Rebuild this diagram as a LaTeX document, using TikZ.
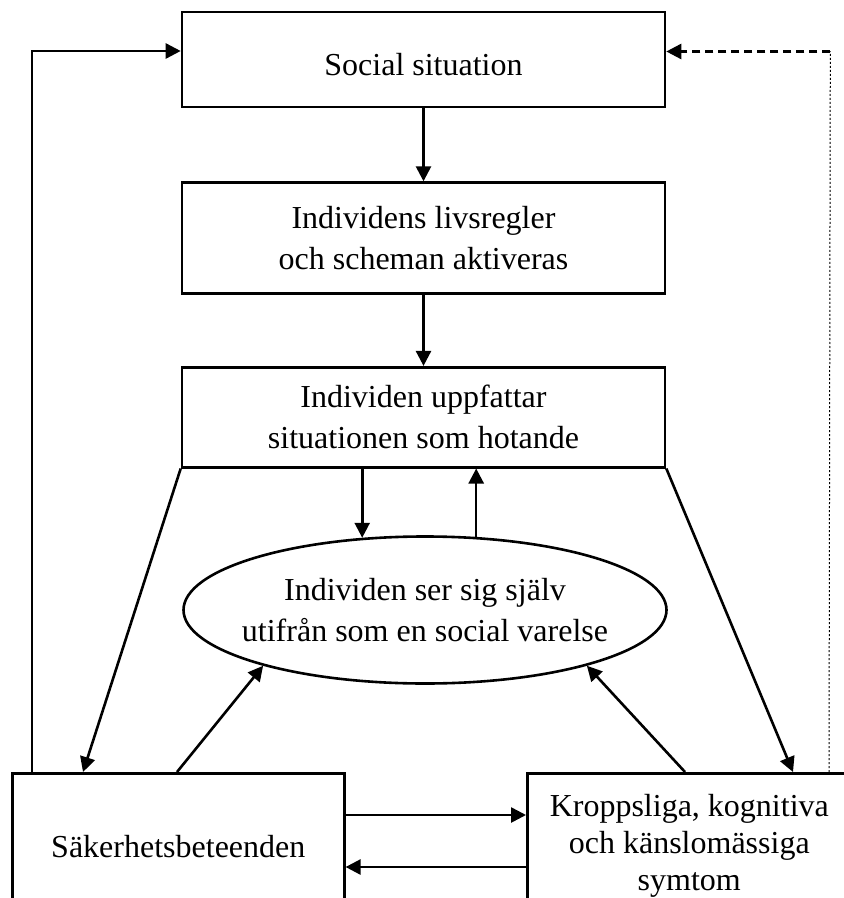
\documentclass[tikz,border=0pt]{standalone}
\usepackage{fontspec}
\setmainfont{Liberation Serif}
\usetikzlibrary{positioning,arrows.meta,shapes.geometric,calc}

\begin{document}
\begin{tikzpicture}[
  x=0.5pt, y=-0.5pt,
  font=\fontsize{16}{20.5}\selectfont,
  box/.style={draw, line width=1.3pt, align=center, inner sep=0pt, minimum width=241.5pt},
  oval/.style={ellipse, draw, line width=1.3pt, align=center, inner ysep=0pt, inner xsep=-7pt, minimum width=241.5pt, minimum height=73.5pt},
  arr/.style={-{Triangle[length=7.5pt,width=7.5pt]}, line width=1.3pt},
  dasharr/.style={arr, dash pattern=on 4pt off 2.5pt},
  dotline/.style={line width=0.5pt, dash pattern=on 1pt off 1pt},
]
\useasboundingbox (0,0) rectangle (844,898);

% ---------------- centre column ----------------
\node[box, minimum height=47.5pt, text height=16pt, text depth=0pt] (social) at (423.5,59.5) {Social situation};
\node[box, minimum height=55.5pt, below=36.5pt of social] (rules) {Individens livsregler\\och scheman aktiveras};
\node[box, minimum height=50pt, below=35.5pt of rules] (threat) {Individen uppfattar\\situationen som hotande};
\node[oval] (self) at (425,610) {Individen ser sig själv\\utifrån som en social varelse};

% ---------------- bottom row ----------------
\node[box, minimum width=166pt, minimum height=73pt, anchor=north west] (safety) at (11,772) {Säkerhetsbeteenden};
\node[box, minimum width=162pt, minimum height=73pt, anchor=north west, font=\fontsize{16}{18.5}\selectfont] (symptoms) at (526,772) {Kroppsliga, kognitiva\\och känslomässiga\\symtom};

% ---------------- arrows ----------------
\draw[arr] (social) -- (rules);
\draw[arr] (rules) -- (threat);
\draw[arr] (self.131.6 |- threat.south) -- (self.131.6);
\draw[arr] (self.55.2) -- (self.55.2 |- threat.south);
\draw[arr] (threat.south west) -- ($(safety.north west)+(72,0)$);
\draw[arr] (threat.south east) -- ($(symptoms.north west)+(267,0)$);
\draw[arr] ($(safety.north west)+(166,0)$) -- (self.199.7);
\draw[arr] ($(symptoms.north west)+(159,0)$) -- (self.341.5);
\draw[arr] ($(safety.north east)+(0,43)$) -- ($(symptoms.north west)+(0,43)$);
\draw[arr] ($(symptoms.north west)+(0,95)$) -- ($(safety.north east)+(0,95)$);

% ---------------- feedback loops ----------------
\draw[arr] ($(safety.north west)+(21,0)$) |- ($(social.west)+(0,-8.5)$);
\draw[dotline] ($(symptoms.north west)+(303,0)$) -- ($(social.east)+(164,-8)$) coordinate (turn);
\draw[dasharr] (turn) -- ($(social.east)+(0,-8)$);

\end{tikzpicture}
\end{document}
